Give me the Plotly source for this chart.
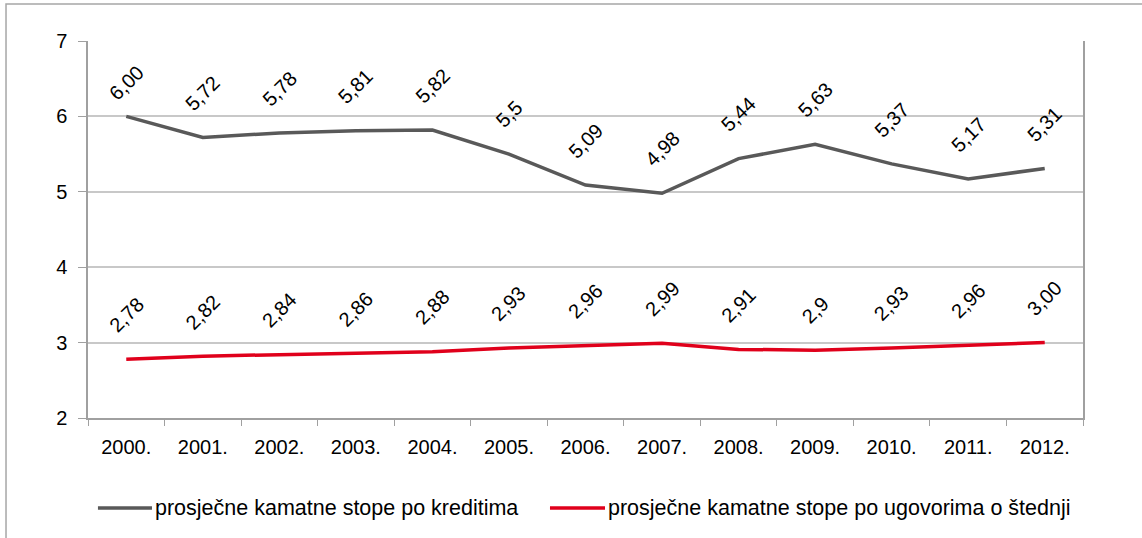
import plotly.graph_objects as go

# ---- Data ----
years = ["2000.", "2001.", "2002.", "2003.", "2004.", "2005.", "2006.",
         "2007.", "2008.", "2009.", "2010.", "2011.", "2012."]
krediti = [6.00, 5.72, 5.78, 5.81, 5.82, 5.5, 5.09, 4.98, 5.44, 5.63, 5.37, 5.17, 5.31]
krediti_lbl = ["6,00", "5,72", "5,78", "5,81", "5,82", "5,5", "5,09",
               "4,98", "5,44", "5,63", "5,37", "5,17", "5,31"]
stednja = [2.78, 2.82, 2.84, 2.86, 2.88, 2.93, 2.96, 2.99, 2.91, 2.9, 2.93, 2.96, 3.00]
stednja_lbl = ["2,78", "2,82", "2,84", "2,86", "2,88", "2,93", "2,96",
               "2,99", "2,91", "2,9", "2,93", "2,96", "3,00"]
names = ["prosječne kamatne stope po kreditima",
         "prosječne kamatne stope po ugovorima o štednji"]

FONT = "Liberation Sans, Arial, sans-serif"
GREY = "#595959"
RED = "#E0001B"

fig = go.Figure()

fig.add_trace(go.Scatter(
    x=years, y=krediti, mode="lines", name=names[0],
    line=dict(color=GREY, width=3.5), showlegend=False,
))
fig.add_trace(go.Scatter(
    x=years, y=stednja, mode="lines", name=names[1],
    line=dict(color=RED, width=3.5), showlegend=False,
))

# ---- rotated data labels (category index used for x) ----
for s, (vals, lbls) in enumerate(((krediti, krediti_lbl), (stednja, stednja_lbl))):
    for i, (v, t) in enumerate(zip(vals, lbls)):
        shift = 9 if (s == 0 and i == 0) else 20   # first label sits lower in original
        fig.add_annotation(
            x=i, y=v, text=t, showarrow=False,
            textangle=-45, xanchor="center", yanchor="bottom",
            yshift=shift, font=dict(size=20, color="black", family=FONT),
        )

# ---- legend drawn by hand (long line keys like the original) ----
leg_y = -0.2387
for (x0, x1), col, name in (((0.0100, 0.0643), GREY, names[0]),
                            ((0.4643, 0.5196), RED, names[1])):
    fig.add_shape(type="line", xref="paper", yref="paper",
                  x0=x0, x1=x1, y0=leg_y, y1=leg_y,
                  line=dict(color=col, width=3.5))
    fig.add_annotation(xref="paper", yref="paper", x=x1 + 0.001, y=leg_y,
                       text=name, showarrow=False, xanchor="left", yanchor="middle",
                       font=dict(size=21.5, color="black", family=FONT))

# ---- outer chart border ----
fig.add_shape(
    type="rect", xref="paper", yref="paper",
    x0=-0.0824, x1=1.2, y0=-0.5, y1=1.098,
    line=dict(color="#A6A6A6", width=1.5), fillcolor="rgba(0,0,0,0)",
    layer="below",
)

fig.update_layout(
    width=1142, height=538,
    margin=dict(l=88, r=59, t=41, b=120),
    plot_bgcolor="white", paper_bgcolor="white",
    font=dict(family=FONT, size=20, color="black"),
    showlegend=False,
    xaxis=dict(
        type="category", range=[-0.5, 12.5],
        tickson="boundaries", ticks="outside", ticklen=6, tickcolor="#A0A0A0",
        showline=True, linecolor="#A0A0A0", linewidth=1.5,
        showgrid=False, ticklabelstandoff=10,
    ),
    yaxis=dict(
        range=[2, 7], dtick=1, tick0=2,
        ticks="outside", ticklen=8, tickcolor="#A0A0A0",
        showline=True, linecolor="#A0A0A0", linewidth=1.5, mirror=True,
        showgrid=True, gridcolor="#C8C8C8", gridwidth=1.5,
        zeroline=False, ticklabelstandoff=7,
    ),
)

# drop the browser's default body margin so the figure fills the window
fig.write_html("out.html",
               config={"displayModeBar": False},
               post_script="document.body.style.margin='0';document.body.style.overflow='hidden';")
